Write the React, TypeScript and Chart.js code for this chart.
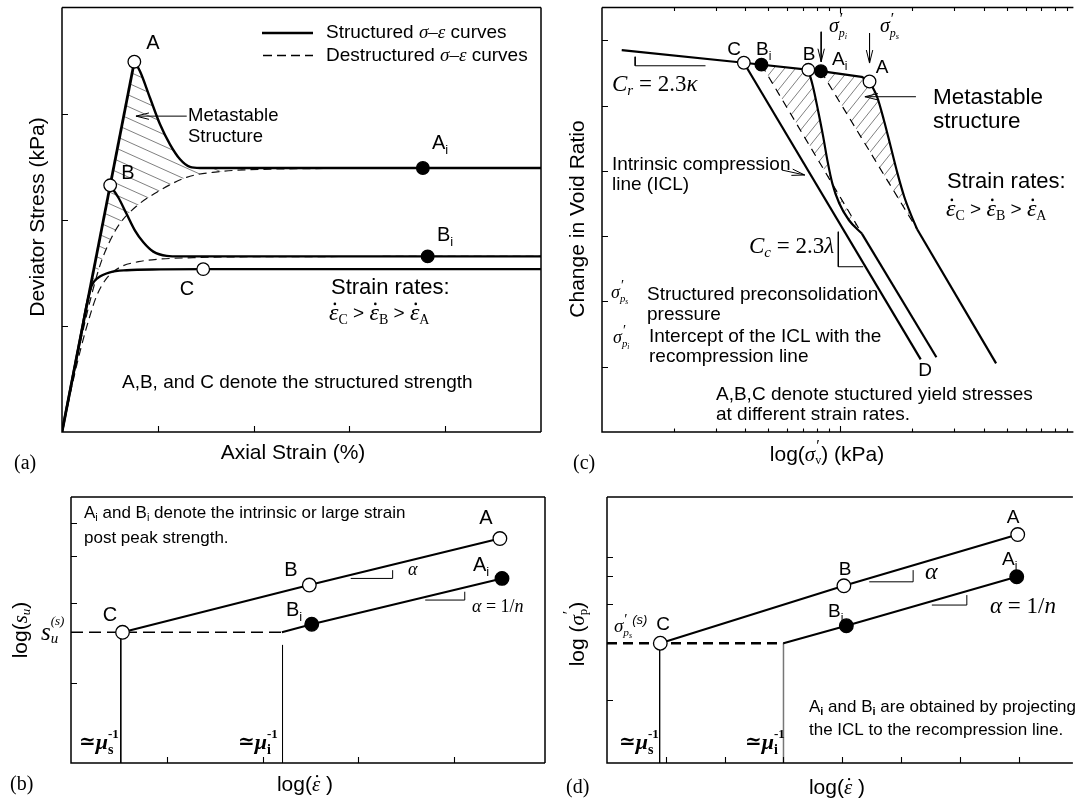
import React, { useEffect, useRef } from "react";
import { Chart, registerables } from "chart.js";

Chart.register(...registerables);

const W = 1081;
const H = 802;
const SANS = '"Liberation Sans", Arial, Helvetica, sans-serif';
const SERIF = '"Liberation Serif", "Times New Roman", "DejaVu Serif", serif';
const sans = (s: number, st = "") => `${st} ${s}px ${SANS}`.trim();
const serif = (s: number, st = "") => `${st} ${s}px ${SERIF}`.trim();

/* ================= (a) deviator stress vs axial strain ================= */
const aStrainTicks = [1, 2, 3, 4];
const aStressTicks = [1, 2, 3];
const aRiseStrain = [0, 0.755];
const aRiseStress = [0, 3.49];
const aPeakAStrain = [0.755, 0.814, 0.919, 1.023, 1.127, 1.232, 1.336, 1.44, 2.0, 5.0];
const aPeakAStress = [3.49, 3.4, 3.148, 2.9, 2.711, 2.57, 2.498, 2.488, 2.488, 2.488];
const aPeakBStrain = [0.503, 0.588, 0.675, 0.762, 0.849, 0.953, 1.093, 1.232, 2.0, 5.0];
const aPeakBStress = [2.325, 2.21, 2.054, 1.898, 1.788, 1.7, 1.66, 1.655, 1.655, 1.655];
const aCurveCStrain = [0, 0.2, 0.258, 0.31, 0.379, 0.501, 0.675, 1.023, 1.475, 5.0];
const aCurveCStress = [0, 0.926, 1.2, 1.38, 1.455, 1.505, 1.525, 1.533, 1.535, 1.535];
const aDestAStrain = [0, 0.1, 0.2, 0.3, 0.4, 0.5, 0.6, 0.78, 0.99, 1.3, 1.6, 2.2, 3.3, 5.0];
const aDestAStress = [0, 0.45, 0.88, 1.26, 1.58, 1.8, 1.96, 2.13, 2.26, 2.4, 2.45, 2.478, 2.485, 2.488];
const aDestBStrain = [0, 0.1, 0.2, 0.3, 0.36, 0.45, 0.6, 0.8, 1.0, 1.37, 2.0, 5.0];
const aDestBStress = [0, 0.42, 0.8, 1.12, 1.28, 1.43, 1.55, 1.605, 1.628, 1.643, 1.652, 1.655];
const aOpenStrain = [0.755, 0.503, 1.474]; // A, B, C
const aOpenStress = [3.49, 2.325, 1.535];
const aFillStrain = [3.767, 3.817]; // Ai, Bi
const aFillStress = [2.488, 1.655];
const aArrowStrain = [1.302, 0.772];
const aArrowStress = [2.977, 2.977];

/* ================= (c) void ratio vs log stress ================= */
const cStressMajor = [100];
const cStressMinor = [20, 30, 40, 50, 60, 70, 80, 90, 200, 300, 400, 500, 600, 700, 800, 900];
const cVoidTicks = [1, 2, 3, 4, 5, 6];
const cRecompStress = [12.1, 39.4, 83, 123, 132.8];
const cRecompVoid = [5.85, 5.655, 5.526, 5.44, 5.368];
const cOpenStress = [39.4, 73.5, 132.8]; // C, B, A
const cOpenVoid = [5.655, 5.547, 5.368];
const cFillStress = [46.7, 83]; // Bi, Ai
const cFillVoid = [5.626, 5.526];
const cIclStress = [39.4, 217.8];
const cIclVoid = [5.655, 1.112];
const cBCurveStress = [73.5, 76.98, 80.73, 84.66, 88.36, 92.67, 99.05, 108.9, 123.3];
const cBCurveVoid = [5.547, 5.281, 4.925, 4.543, 4.16, 3.808, 3.503, 3.243, 3.039];
const cBDashStress = [46.7, 123.3];
const cBDashVoid = [5.626, 3.039];
const cBTailStress = [123.3, 253.5];
const cBTailVoid = [3.039, 1.144];
const cACurveStress = [132.8, 143.0, 152.7, 163.1, 174.1, 185.9, 197.9, 210.4];
const cACurveVoid = [5.368, 5.128, 4.772, 4.364, 3.957, 3.599, 3.334, 3.105];
const cADashStress = [83, 210.4];
const cADashVoid = [5.526, 3.105];
const cATailStress = [210.4, 451.4];
const cATailVoid = [3.105, 1.051];
const cArrowPiStress = [83.2, 83.2];
const cArrowPiVoid = [6.13, 5.671];
const cArrowPsStress = [132.8, 132.8];
const cArrowPsVoid = [6.11, 5.651];
const cCrStress = [13.78, 13.78, 27.2];
const cCrVoid = [5.747, 5.609, 5.609];
const cCcStress = [98.2, 98.2, 125];
const cCcVoid = [3.067, 2.531, 2.531];
const cIclArrowStress = [56.9, 71.0];
const cIclArrowVoid = [4.012, 3.936];
const cMetaArrowStress = [208, 127];
const cMetaArrowVoid = [5.135, 5.135];

/* ================= (b) log su vs log strain rate ================= */
const bRateTicks = [1, 2, 3, 4];
const bSuTicks = [1, 2, 3, 4];
const bUpperRate = [0.538, 2.489, 4.479];
const bUpperSu = [1.55, 2.333, 3.49];
const bLowerRate = [2.202, 2.514, 4.501];
const bLowerSu = [1.55, 1.661, 2.471];
const bDashRate = [0, 2.202];
const bDashSu = [1.55, 1.55];
const bMuSRate = [0.52, 0.52];
const bMuSSu = [1.49, 0.5];
const bMuIRate = [2.209, 2.209];
const bMuISu = [1.389, 0.5];
const bSlope1Rate = [2.921, 3.359, 3.359];
const bSlope1Su = [2.471, 2.471, 2.654];
const bSlope2Rate = [3.699, 4.112, 4.112];
const bSlope2Su = [2.049, 2.049, 2.202];
const bOpenRate = [0.538, 2.489, 4.479];
const bOpenSu = [1.55, 2.333, 3.49];
const bFillRate = [2.514, 4.501];
const bFillSu = [1.661, 2.471];

/* ================= (d) log sigma_p vs log strain rate ================= */
const dRateTicks = [1, 2, 3, 4, 5, 6, 7];
const dSigTicks = [0.5, 2, 3, 4];
const dUpperRate = [0.906, 4.027, 6.982];
const dUpperSig = [1.137, 2.618, 5.51];
const dLowerRate = [3.0, 4.069, 6.965];
const dLowerSig = [1.137, 1.467, 2.984];
const dDashRate = [0, 3.0];
const dDashSig = [1.137, 1.137];
const dMuSRate = [0.895, 0.895];
const dMuSSig = [1.137, 0.2];
const dMuIRate = [3.0, 3.0];
const dMuISig = [1.137, 0.2];
const dSlope1Rate = [4.458, 5.204, 5.204];
const dSlope1Sig = [2.774, 2.774, 3.287];
const dSlope2Rate = [5.522, 6.117, 6.117];
const dSlope2Sig = [1.98, 1.98, 2.288];
const dOpenRate = [0.906, 4.027, 6.982];
const dOpenSig = [1.137, 2.618, 5.51];
const dFillRate = [4.069, 6.965];
const dFillSig = [1.467, 2.984];

/* ================= helpers ================= */
type Part = { t: string; f: string; dy?: number; dx?: number; adv?: boolean; dot?: boolean };
const P = (t: string, f: string, o: Partial<Part> = {}): Part => ({ t, f, ...o });

function drawParts(ctx: CanvasRenderingContext2D, x: number, y: number, parts: Part[], align: "left" | "center" = "left") {
  ctx.save();
  ctx.textBaseline = "middle";
  ctx.textAlign = "left";
  ctx.fillStyle = "#000";
  let total = 0;
  const ws = parts.map((p) => {
    ctx.font = p.f;
    const w = ctx.measureText(p.t).width;
    if (p.adv !== false) total += w + (p.dx || 0);
    return w;
  });
  let cx = align === "center" ? x - total / 2 : x;
  parts.forEach((p, i) => {
    ctx.font = p.f;
    const px = cx + (p.dx || 0);
    const py = y + (p.dy || 0);
    ctx.fillText(p.t, px, py);
    if (p.dot) {
      const m = p.f.match(/([\d.]+)px/);
      const size = m ? parseFloat(m[1]) : 20;
      ctx.beginPath();
      ctx.arc(px + ws[i] * 0.62, py - size * 0.42, Math.max(1.1, size * 0.055), 0, Math.PI * 2);
      ctx.fill();
    }
    if (p.adv !== false) cx = px + ws[i];
  });
  ctx.restore();
}

function drawRot(ctx: CanvasRenderingContext2D, x: number, y: number, parts: Part[]) {
  ctx.save();
  ctx.translate(x, y);
  ctx.rotate(-Math.PI / 2);
  drawParts(ctx, 0, 0, parts, "center");
  ctx.restore();
}

const epsRates = (size: number, subSize: number, gt: number): Part[] => {
  const e = (s: string) => [P("ε", serif(size, "italic"), { dot: true }), P(s, serif(subSize), { dy: size * 0.26 })];
  return [...e("C"), P(" > ", sans(gt)), ...e("B"), P(" > ", sans(gt)), ...e("A")];
};
const sigmaP = (size: number, sub: string): Part[] => [
  P("σ", serif(size, "italic")),
  P("′", serif(size * 0.8), { dy: -size * 0.38, adv: false, dx: 1 }),
  P("p", serif(size * 0.6, "italic"), { dy: size * 0.32 }),
  P(sub, serif(size * 0.42, "italic"), { dy: size * 0.48 }),
];
const muLabel = (sub: string): Part[] => [
  P("≃", serif(20, "bold")),
  P("μ", serif(22, "italic bold")),
  P("-1", serif(13, "bold"), { dy: -8, adv: false }),
  P(sub, serif(14, "bold"), { dy: 7 }),
];

function dsIndex(chart: any, label: string) {
  return chart.data.datasets.findIndex((d: any) => d.label === label);
}

function traceMeta(ctx: CanvasRenderingContext2D, chart: any, label: string, reverse: boolean, move: boolean) {
  const pts: any[] = chart.getDatasetMeta(dsIndex(chart, label)).data;
  const seq = reverse ? pts.slice().reverse() : pts;
  seq.forEach((p: any, k: number) => {
    if (k === 0) {
      if (move) ctx.moveTo(p.x, p.y);
      else ctx.lineTo(p.x, p.y);
      return;
    }
    const q = seq[k - 1];
    const c1x = reverse ? q.cp1x : q.cp2x;
    const c1y = reverse ? q.cp1y : q.cp2y;
    const c2x = reverse ? p.cp2x : p.cp1x;
    const c2y = reverse ? p.cp2y : p.cp1y;
    if (c1x === undefined || c2x === undefined) ctx.lineTo(p.x, p.y);
    else ctx.bezierCurveTo(c1x, c1y, c2x, c2y, p.x, p.y);
  });
}

function hatchLines(ctx: CanvasRenderingContext2D, area: any, dx: number, dy: number, spacing: number) {
  const len = Math.hypot(dx, dy);
  const ux = dx / len, uy = dy / len;
  const nx = -uy, ny = ux;
  const cx = (area.left + area.right) / 2, cy = (area.top + area.bottom) / 2;
  const R = Math.hypot(area.right - area.left, area.bottom - area.top);
  const n = Math.ceil(R / spacing);
  ctx.beginPath();
  for (let k = -n; k <= n; k++) {
    const ox = cx + nx * k * spacing, oy = cy + ny * k * spacing;
    ctx.moveTo(ox - ux * R, oy - uy * R);
    ctx.lineTo(ox + ux * R, oy + uy * R);
  }
  ctx.stroke();
}

function arrowHeadFor(ctx: CanvasRenderingContext2D, chart: any, label: string, len = 13, half = 3.2) {
  const pts: any[] = chart.getDatasetMeta(dsIndex(chart, label)).data;
  const a = pts[pts.length - 2], b = pts[pts.length - 1];
  const ang = Math.atan2(b.y - a.y, b.x - a.x);
  ctx.beginPath();
  ctx.moveTo(b.x - len * Math.cos(ang) + half * Math.sin(ang), b.y - len * Math.sin(ang) - half * Math.cos(ang));
  ctx.lineTo(b.x, b.y);
  ctx.lineTo(b.x - len * Math.cos(ang) - half * Math.sin(ang), b.y - len * Math.sin(ang) + half * Math.cos(ang));
  ctx.stroke();
}

const pts = (xs: number[], ys: number[]) => xs.map((x, i) => ({ x, y: ys[i] }));
const Ln = (label: string, xs: number[], ys: number[], w: number, o: any = {}) => ({
  label,
  data: pts(xs, ys),
  borderColor: "#000",
  borderWidth: w,
  pointRadius: 0,
  pointHoverRadius: 0,
  fill: false,
  tension: 0,
  borderJoinStyle: "round",
  order: 1,
  ...o,
});
const Mk = (label: string, xs: number[], ys: number[], filled: boolean, r: number) => ({
  label,
  data: pts(xs, ys),
  showLine: false,
  pointRadius: r,
  pointHoverRadius: r,
  pointBackgroundColor: filled ? "#000" : "#fff",
  pointBorderColor: "#000",
  pointBorderWidth: 1.3,
  order: 0,
});
const mono = { cubicInterpolationMode: "monotone" };

type Cfg = {
  area: [number, number, number, number];
  x: any;
  y: any;
  border: [boolean, boolean, boolean, boolean];
  ticks: { x?: number[]; xMinor?: number[]; top?: boolean; y?: number[]; len: number; minor?: number };
  datasets: any[];
  arrows?: string[];
  hatch?: (ctx: CanvasRenderingContext2D, chart: any) => void;
  overlay: (ctx: CanvasRenderingContext2D, chart: any) => void;
};

function makePlugin(cfg: Cfg) {
  return {
    id: "panelDecor",
    beforeDatasetsDraw(chart: any) {
      if (!cfg.hatch) return;
      chart.data.datasets.forEach((_d: any, i: number) => {
        const m = chart.getDatasetMeta(i);
        const el: any = m.dataset;
        if (el && el.updateControlPoints) el.updateControlPoints(chart.chartArea, "x");
      });
      const ctx = chart.ctx;
      ctx.save();
      cfg.hatch(ctx, chart);
      ctx.restore();
    },
    afterDraw(chart: any) {
      const ctx: CanvasRenderingContext2D = chart.ctx;
      const a = chart.chartArea;
      const sx = chart.scales.x, sy = chart.scales.y;
      ctx.save();
      ctx.strokeStyle = "#000";
      ctx.lineWidth = 1.5;
      ctx.beginPath();
      const [bl, bt, br, bb] = cfg.border;
      if (bl) { ctx.moveTo(a.left, a.top); ctx.lineTo(a.left, a.bottom); }
      if (bt) { ctx.moveTo(a.left, a.top); ctx.lineTo(a.right, a.top); }
      if (br) { ctx.moveTo(a.right, a.top); ctx.lineTo(a.right, a.bottom); }
      if (bb) { ctx.moveTo(a.left - 0.75, a.bottom); ctx.lineTo(a.right, a.bottom); }
      ctx.stroke();
      // ticks
      const t = cfg.ticks;
      ctx.lineWidth = 1.1;
      ctx.beginPath();
      (t.x || []).forEach((v) => {
        const x = Math.round(sx.getPixelForValue(v)) + 0.5;
        ctx.moveTo(x, a.bottom); ctx.lineTo(x, a.bottom - t.len);
        if (t.top) { ctx.moveTo(x, a.top); ctx.lineTo(x, a.top + t.len); }
      });
      (t.xMinor || []).forEach((v) => {
        const x = Math.round(sx.getPixelForValue(v)) + 0.5;
        const ml = t.minor || 3;
        ctx.moveTo(x, a.bottom); ctx.lineTo(x, a.bottom - ml);
        if (t.top) { ctx.moveTo(x, a.top); ctx.lineTo(x, a.top + ml); }
      });
      (t.y || []).forEach((v) => {
        const y = Math.round(sy.getPixelForValue(v)) + 0.5;
        ctx.moveTo(a.left, y); ctx.lineTo(a.left + t.len, y);
      });
      ctx.stroke();
      ctx.lineWidth = 1;
      (cfg.arrows || []).forEach((lb) => arrowHeadFor(ctx, chart, lb));
      cfg.overlay(ctx, chart);
      ctx.restore();
    },
  };
}

/* ================= panel configs ================= */
const panelA: Cfg = {
  area: [62, 6, 541, 432],
  x: { type: "linear", min: 0, max: 5 },
  y: { type: "linear", min: 0, max: 4 },
  border: [true, true, true, true],
  ticks: { x: aStrainTicks, y: aStressTicks, len: 6 },
  datasets: [
    Mk("openA", aOpenStrain, aOpenStress, false, 6.3),
    Mk("fillA", aFillStrain, aFillStress, true, 6.3),
    Ln("rise", aRiseStrain, aRiseStress, 2.8),
    Ln("peakA", aPeakAStrain, aPeakAStress, 2.4, mono),
    Ln("peakB", aPeakBStrain, aPeakBStress, 2.4, mono),
    Ln("curveC", aCurveCStrain, aCurveCStress, 2.4, mono),
    Ln("destA", aDestAStrain, aDestAStress, 1.2, { ...mono, borderDash: [8, 5], borderColor: "#111" }),
    Ln("destB", aDestBStrain, aDestBStress, 1.2, { ...mono, borderDash: [8, 5], borderColor: "#111" }),
    Ln("arrowA", aArrowStrain, aArrowStress, 1),
  ],
  arrows: ["arrowA"],
  hatch: (ctx, chart) => {
    ctx.beginPath();
    traceMeta(ctx, chart, "rise", false, true);
    traceMeta(ctx, chart, "peakA", false, false);
    traceMeta(ctx, chart, "destA", true, false);
    ctx.closePath();
    ctx.clip();
    ctx.strokeStyle = "#555";
    ctx.lineWidth = 0.75;
    hatchLines(ctx, chart.chartArea, 1, 0.45, 10.7);
  },
  overlay: (ctx) => {
    ctx.strokeStyle = "#000";
    ctx.lineWidth = 2.6;
    ctx.beginPath(); ctx.moveTo(262, 33); ctx.lineTo(313, 33); ctx.stroke();
    ctx.lineWidth = 1.5;
    ctx.setLineDash([9, 5]);
    ctx.beginPath(); ctx.moveTo(263, 55.5); ctx.lineTo(313, 55.5); ctx.stroke();
    ctx.setLineDash([]);
    drawParts(ctx, 326, 33, [P("Structured ", sans(19)), P("σ–ε", serif(19, "italic")), P(" curves", sans(19))]);
    drawParts(ctx, 326, 55.5, [P("Destructured ", sans(19)), P("σ–ε", serif(19, "italic")), P(" curves", sans(19))]);
    drawParts(ctx, 153, 43, [P("A", sans(20))], "center");
    drawParts(ctx, 128, 173, [P("B", sans(20))], "center");
    drawParts(ctx, 187, 289, [P("C", sans(20))], "center");
    drawParts(ctx, 432, 143, [P("A", sans(20)), P("i", sans(13), { dy: 7 })]);
    drawParts(ctx, 437, 235, [P("B", sans(20)), P("i", sans(13), { dy: 7 })]);
    drawParts(ctx, 188, 116, [P("Metastable", sans(18.5))]);
    drawParts(ctx, 188, 137, [P("Structure", sans(18.5))]);
    drawParts(ctx, 331, 288, [P("Strain rates:", sans(22))]);
    drawParts(ctx, 329, 314, epsRates(24, 14, 19));
    drawParts(ctx, 122, 383, [P("A,B, and C denote the structured strength", sans(19))]);
    drawParts(ctx, 293, 453, [P("Axial Strain (%)", sans(21))], "center");
    drawRot(ctx, 38, 217, [P("Deviator Stress (kPa)", sans(21))]);
    drawParts(ctx, 14, 464, [P("(a)", serif(20))]);
  },
};

const panelC: Cfg = {
  area: [602, 7, 1081, 432],
  x: { type: "logarithmic", min: 10, max: 953 },
  y: { type: "linear", min: 0, max: 6.5 },
  border: [true, true, false, true],
  ticks: { x: cStressMajor, xMinor: cStressMinor, top: true, y: cVoidTicks, len: 6, minor: 3.5 },
  datasets: [
    Mk("openC", cOpenStress, cOpenVoid, false, 6.3),
    Mk("fillC", cFillStress, cFillVoid, true, 6.3),
    Ln("recomp", cRecompStress, cRecompVoid, 2.2),
    Ln("icl", cIclStress, cIclVoid, 2.2),
    Ln("bCurve", cBCurveStress, cBCurveVoid, 2.2, mono),
    Ln("bDash", cBDashStress, cBDashVoid, 1.2, { borderDash: [8, 6] }),
    Ln("bTail", cBTailStress, cBTailVoid, 2.2),
    Ln("aCurve", cACurveStress, cACurveVoid, 2.2, mono),
    Ln("aDash", cADashStress, cADashVoid, 1.2, { borderDash: [8, 6] }),
    Ln("aTail", cATailStress, cATailVoid, 2.2),
    Ln("arrPi", cArrowPiStress, cArrowPiVoid, 1),
    Ln("arrPs", cArrowPsStress, cArrowPsVoid, 1),
    Ln("crTri", cCrStress, cCrVoid, 1),
    Ln("ccTri", cCcStress, cCcVoid, 1),
    Ln("arrIcl", cIclArrowStress, cIclArrowVoid, 1),
    Ln("arrMeta", cMetaArrowStress, cMetaArrowVoid, 1),
  ],
  arrows: ["arrPi", "arrPs", "arrIcl", "arrMeta"],
  hatch: (ctx, chart) => {
    const sx = chart.scales.x, sy = chart.scales.y;
    ctx.beginPath();
    ctx.moveTo(sx.getPixelForValue(cFillStress[0]), sy.getPixelForValue(cFillVoid[0]));
    traceMeta(ctx, chart, "bCurve", false, false);
    ctx.closePath();
    ctx.moveTo(sx.getPixelForValue(cFillStress[1]), sy.getPixelForValue(cFillVoid[1]));
    ctx.lineTo(sx.getPixelForValue(cRecompStress[3]), sy.getPixelForValue(cRecompVoid[3]));
    traceMeta(ctx, chart, "aCurve", false, false);
    ctx.closePath();
    ctx.clip();
    ctx.strokeStyle = "#555";
    ctx.lineWidth = 0.75;
    hatchLines(ctx, chart.chartArea, 1, -1.25, 8.5);
  },
  overlay: (ctx) => {
    drawParts(ctx, 734, 50, [P("C", sans(19))], "center");
    drawParts(ctx, 756, 50, [P("B", sans(19)), P("i", sans(12), { dy: 7 })]);
    drawParts(ctx, 809, 55, [P("B", sans(19))], "center");
    drawParts(ctx, 832, 60, [P("A", sans(19)), P("i", sans(12), { dy: 7 })]);
    drawParts(ctx, 882, 68, [P("A", sans(19))], "center");
    drawParts(ctx, 829, 27, sigmaP(20, "i"));
    drawParts(ctx, 880, 27, sigmaP(20, "s"));
    drawParts(ctx, 612, 85, [P("C", serif(23, "italic")), P("r", serif(15, "italic"), { dy: 6 }), P(" = 2.3", serif(23)), P("κ", serif(23, "italic"))]);
    drawParts(ctx, 933, 98, [P("Metastable", sans(22.5))]);
    drawParts(ctx, 933, 122, [P("structure", sans(22.5))]);
    drawParts(ctx, 612, 165, [P("Intrinsic compression", sans(19))]);
    drawParts(ctx, 612, 185, [P("line (ICL)", sans(19))]);
    drawParts(ctx, 947, 182, [P("Strain rates:", sans(22))]);
    drawParts(ctx, 946, 210, epsRates(24, 14, 19));
    drawParts(ctx, 749, 247, [P("C", serif(23, "italic")), P("c", serif(15, "italic"), { dy: 6 }), P(" = 2.3", serif(23)), P("λ", serif(23, "italic"))]);
    drawParts(ctx, 611, 293, sigmaP(18, "s"));
    drawParts(ctx, 647, 295, [P("Structured preconsolidation", sans(19))]);
    drawParts(ctx, 647, 315, [P("pressure", sans(19))]);
    drawParts(ctx, 613, 338, sigmaP(18, "i"));
    drawParts(ctx, 649, 337, [P("Intercept of the ICL with the", sans(19))]);
    drawParts(ctx, 649, 357, [P("recompression line", sans(19))]);
    drawParts(ctx, 925, 371, [P("D", sans(19))], "center");
    drawParts(ctx, 716, 395, [P("A,B,C denote stuctured yield stresses", sans(19))]);
    drawParts(ctx, 716, 415, [P("at different strain rates.", sans(19))]);
    drawParts(ctx, 827, 455, [P("log(", sans(21)), P("σ", serif(21, "italic")), P("′", serif(16), { dy: -8, adv: false, dx: 1 }), P("v", serif(12), { dy: 6 }), P(") (kPa)", sans(21))], "center");
    drawRot(ctx, 578, 219, [P("Change in Void Ratio", sans(21))]);
    drawParts(ctx, 573, 464, [P("(c)", serif(20))]);
  },
};

const panelB: Cfg = {
  area: [71, 497, 545, 763],
  x: { type: "linear", min: 0, max: 4.95 },
  y: { type: "logarithmic", min: 0.5, max: 5 },
  border: [true, true, true, true],
  ticks: { x: bRateTicks, y: bSuTicks, len: 6 },
  datasets: [
    Mk("openB", bOpenRate, bOpenSu, false, 6.8),
    Mk("fillB", bFillRate, bFillSu, true, 6.8),
    Ln("upper", bUpperRate, bUpperSu, 2.0),
    Ln("lower", bLowerRate, bLowerSu, 2.0),
    Ln("dash", bDashRate, bDashSu, 1.5, { borderDash: [12, 6] }),
    Ln("muS", bMuSRate, bMuSSu, 1),
    Ln("muI", bMuIRate, bMuISu, 1),
    Ln("slope1", bSlope1Rate, bSlope1Su, 1),
    Ln("slope2", bSlope2Rate, bSlope2Su, 1),
  ],
  overlay: (ctx) => {
    drawParts(ctx, 84, 513, [P("A", sans(17)), P("i", sans(11), { dy: 5 }), P(" and B", sans(17)), P("i", sans(11), { dy: 5 }), P(" denote the intrinsic or large strain", sans(17))]);
    drawParts(ctx, 84, 538, [P("post peak strength.", sans(17))]);
    drawParts(ctx, 486, 518, [P("A", sans(20))], "center");
    drawParts(ctx, 291, 570, [P("B", sans(20))], "center");
    drawParts(ctx, 110, 615, [P("C", sans(20))], "center");
    drawParts(ctx, 473, 565, [P("A", sans(20)), P("i", sans(13), { dy: 7 })]);
    drawParts(ctx, 286, 610, [P("B", sans(20)), P("i", sans(13), { dy: 7 })]);
    drawParts(ctx, 408, 570, [P("α", serif(18, "italic"))]);
    drawParts(ctx, 472, 607, [P("α", serif(18, "italic")), P(" = 1/", serif(18)), P("n", serif(18, "italic"))]);
    drawParts(ctx, 41, 633, [P("s", serif(25, "italic")), P("(s)", serif(13, "italic"), { dy: -11, adv: false }), P("u", serif(15, "italic"), { dy: 6 })]);
    drawParts(ctx, 79, 743, muLabel("s"));
    drawParts(ctx, 238, 743, muLabel("i"));
    drawParts(ctx, 305, 785, [P("log(", sans(21)), P("ε", serif(21, "italic"), { dot: true }), P(" )", sans(21))], "center");
    drawRot(ctx, 21, 630, [P("log(", sans(21)), P("s", serif(21, "italic")), P("u", serif(13, "italic"), { dy: 6 }), P(")", sans(21))]);
    drawParts(ctx, 10, 785, [P("(b)", serif(20))]);
  },
};

const panelD: Cfg = {
  area: [607, 497, 1081, 763],
  x: { type: "linear", min: 0, max: 7.92 },
  y: { type: "logarithmic", min: 0.2, max: 9.5 },
  border: [true, true, false, true],
  ticks: { x: dRateTicks, y: dSigTicks, len: 6 },
  datasets: [
    Mk("openD", dOpenRate, dOpenSig, false, 6.8),
    Mk("fillD", dFillRate, dFillSig, true, 6.8),
    Ln("upper", dUpperRate, dUpperSig, 2.0),
    Ln("lower", dLowerRate, dLowerSig, 2.0),
    Ln("dash", dDashRate, dDashSig, 2.4, { borderDash: [10, 6] }),
    Ln("muS", dMuSRate, dMuSSig, 1),
    Ln("muI", dMuIRate, dMuISig, 1.5, { borderColor: "#777" }),
    Ln("slope1", dSlope1Rate, dSlope1Sig, 1),
    Ln("slope2", dSlope2Rate, dSlope2Sig, 1),
  ],
  overlay: (ctx) => {
    drawParts(ctx, 1013, 518, [P("A", sans(19))], "center");
    drawParts(ctx, 845, 570, [P("B", sans(19))], "center");
    drawParts(ctx, 663, 625, [P("C", sans(19))], "center");
    drawParts(ctx, 1002, 560, [P("A", sans(19)), P("i", sans(12), { dy: 7 })]);
    drawParts(ctx, 828, 612, [P("B", sans(19)), P("i", sans(12), { dy: 7 })]);
    drawParts(ctx, 614, 627, [...sigmaP(19, "s"), P("(s)", sans(13, "italic"), { dy: -7 })]);
    drawParts(ctx, 925, 573, [P("α", serif(24, "italic"))]);
    drawParts(ctx, 990, 607, [P("α", serif(23, "italic")), P(" = 1/", serif(23)), P("n", serif(23, "italic"))]);
    drawParts(ctx, 809, 707, [P("A", sans(17)), P("i", sans(11, "bold"), { dy: 5 }), P(" and B", sans(17)), P("i", sans(11, "bold"), { dy: 5 }), P(" are obtained by projecting", sans(17))]);
    drawParts(ctx, 809, 730, [P("the ICL to the recompression line.", sans(17))]);
    drawParts(ctx, 619, 743, muLabel("s"));
    drawParts(ctx, 745, 743, muLabel("i"));
    drawParts(ctx, 837, 788, [P("log(", sans(21)), P("ε", serif(21, "italic"), { dot: true }), P(" )", sans(21))], "center");
    drawRot(ctx, 578, 634, [P("log (", sans(21)), P("σ", serif(21, "italic")), P("′", serif(16), { dy: -8, adv: false, dx: 1 }), P("p", serif(13), { dy: 6 }), P(")", sans(21))]);
    drawParts(ctx, 566, 788, [P("(d)", serif(20))]);
  },
};

const PANELS: Cfg[] = [panelA, panelC, panelB, panelD];

function Panel({ cfg }: { cfg: Cfg }) {
  const ref = useRef<HTMLCanvasElement | null>(null);
  useEffect(() => {
    if (!ref.current) return;
    const [l, t, r, b] = cfg.area;
    const chart = new Chart(ref.current, {
      type: "line",
      data: { datasets: cfg.datasets },
      options: {
        responsive: false,
        maintainAspectRatio: false,
        animation: false,
        devicePixelRatio: 1,
        events: [],
        layout: { padding: { left: l, top: t, right: W - r, bottom: H - b } },
        plugins: { legend: { display: false }, tooltip: { enabled: false } },
        scales: {
          x: { ...cfg.x, display: false, bounds: "data" },
          y: { ...cfg.y, display: false, bounds: "data" },
        },
      } as any,
      plugins: [makePlugin(cfg) as any],
    } as any);
    return () => chart.destroy();
  }, [cfg]);
  return (
    <canvas
      ref={ref}
      width={W}
      height={H}
      style={{ position: "absolute", left: 0, top: 0, width: W, height: H }}
    />
  );
}

export default function App() {
  return (
    <div
      style={{
        position: "fixed",
        left: 0,
        top: 0,
        width: W,
        height: H,
        overflow: "hidden",
        background: "#fff",
      }}
    >
      {PANELS.map((cfg, i) => (
        <Panel key={i} cfg={cfg} />
      ))}
    </div>
  );
}
